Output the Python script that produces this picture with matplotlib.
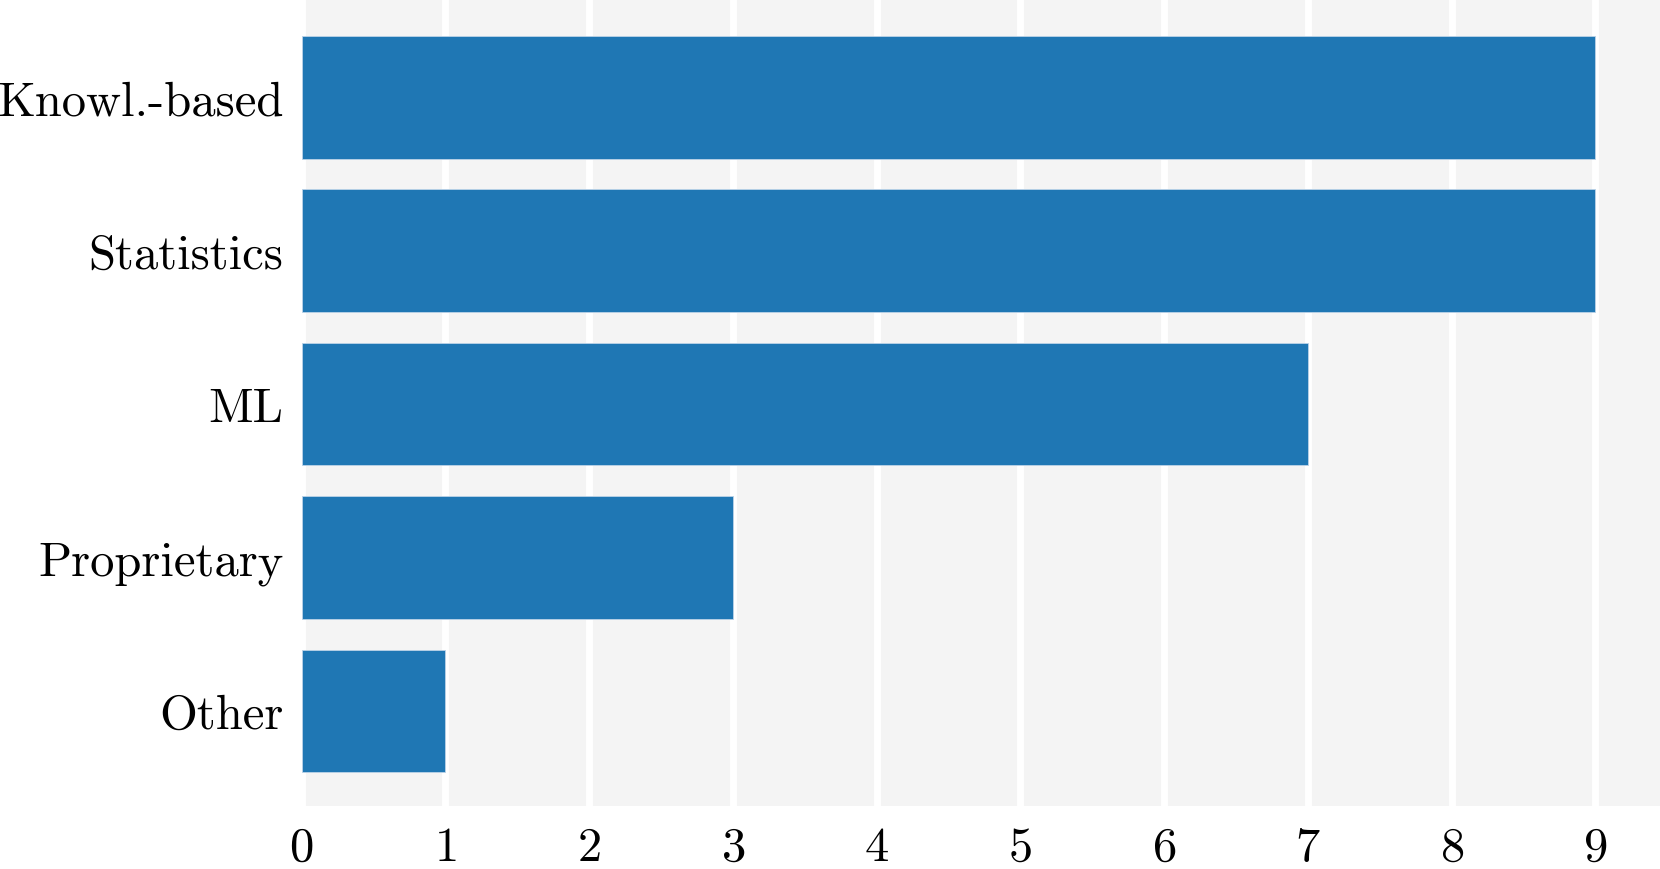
import matplotlib
matplotlib.use("Agg")
import matplotlib.pyplot as plt

# Dados
categorias = ["Knowl.-based", "Statistics", "ML", "Proprietary", "Other"]
valores = [9, 9, 7, 3, 1]
ticks_x = [0, 1, 2, 3, 4, 5, 6, 7, 8, 9]

plt.rcParams["font.family"] = ["cmr10", "DejaVu Serif"]
plt.rcParams["mathtext.fontset"] = "cm"
plt.rcParams["axes.formatter.use_mathtext"] = True

fig = plt.figure(figsize=(16.6, 8.7), dpi=100)
ax = fig.add_axes([0.1817, 0.0724, 0.8183, 0.9276])
ax.set_facecolor("#f4f4f4")

posicoes = list(range(len(categorias)))
ax.barh(posicoes, valores, height=0.8, color="#1f77b4",
        edgecolor="#bcd3e8", linewidth=0.6, zorder=3)

ax.set_yticks(posicoes)
ax.set_yticklabels(categorias)
ax.set_xticks(ticks_x)
ax.set_xlim(0, 9.45)
ax.set_ylim(4.62, -0.64)

ax.grid(axis="x", color="white", linewidth=5, zorder=1)
ax.grid(axis="y", visible=False)
ax.set_axisbelow(True)
for s in ax.spines.values():
    s.set_visible(False)

ax.tick_params(axis="y", length=0, pad=13, labelsize=35)
ax.tick_params(axis="x", length=0, pad=14, labelsize=35)

fig.savefig("out.png", dpi=100)
